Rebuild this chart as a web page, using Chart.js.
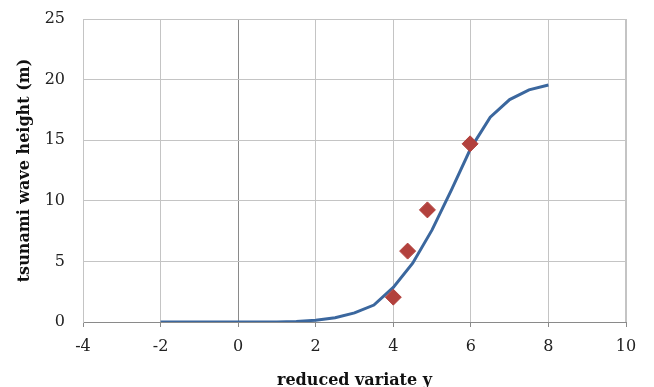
<!DOCTYPE html>
<html>
<head>
<meta charset="utf-8">
<script src="https://cdn.jsdelivr.net/npm/chart.js@4/dist/chart.umd.min.js"></script>
<style>
  html, body { margin: 0; padding: 0; background: #ffffff; }
  #wrap { width: 654px; height: 387px; position: relative; }
</style>
</head>
<body>
<div id="wrap"><canvas id="c" width="654" height="387"></canvas></div>
<script>
// Fitted curve (reduced variate y vs. tsunami wave height)
const curveX = [-2, -1.5, -1, -0.5, 0, 0.5, 1, 1.5, 2, 2.5, 3, 3.5, 4, 4.5, 5, 5.5, 6, 6.5, 7, 7.5, 8];
const curveY = [0, 0, 0, 0, 0, 0, 0, 0.05, 0.15, 0.35, 0.75, 1.4, 2.85, 4.85, 7.6, 10.9, 14.35, 16.9, 18.35, 19.15, 19.55];
// Observed points
const obsX = [4.0, 4.37, 4.88, 5.98];
const obsY = [2.05, 5.85, 9.25, 14.7];
// Axis labels
const xTitle = 'reduced variate y';
const yTitle = 'tsunami wave height (m)';

const FONT = "'DejaVu Serif', 'Liberation Serif', serif";

const curveData = curveX.map((x, i) => ({ x: x, y: curveY[i] }));
const obsData = obsX.map((x, i) => ({ x: x, y: obsY[i] }));

new Chart(document.getElementById('c'), {
  type: 'scatter',
  data: {
    datasets: [
      {
        label: 'observed',
        data: obsData,
        showLine: false,
        pointStyle: 'rectRot',
        pointRadius: 8,
        pointHoverRadius: 8,
        backgroundColor: '#b2413d',
        borderColor: '#b2413d',
        borderWidth: 1,
        order: 0
      },
      {
        label: 'fit',
        data: curveData,
        showLine: true,
        borderColor: '#3b679e',
        borderWidth: 3,
        pointRadius: 0,
        tension: 0,
        fill: false,
        order: 1
      }
    ]
  },
  options: {
    responsive: false,
    animation: false,
    devicePixelRatio: 1,
    layout: { padding: { left: 0, right: 28, top: 19, bottom: 0 } },
    plugins: {
      legend: { display: false },
      tooltip: { enabled: false }
    },
    scales: {
      x: {
        type: 'linear',
        min: -4, max: 10,
        ticks: {
          stepSize: 2,
          color: '#222',
          font: { family: FONT, size: 16 },
          padding: 10,
          maxRotation: 0
        },
        grid: {
          color: (ctx) => (ctx.tick && ctx.tick.value === 0) ? '#8a8a8a' : '#c4c4c4',
          lineWidth: 1,
          tickLength: 5,
          tickColor: '#8a8a8a',
          drawTicks: true
        },
        border: { display: true, color: '#8a8a8a', width: 1 },
        title: {
          display: true,
          text: xTitle,
          color: '#111',
          font: { family: FONT, size: 16, weight: 'bold', lineHeight: 0.9 },
          padding: { top: 0, bottom: -1 }
        },
        afterFit: (s) => { s.height = 65; s.paddingLeft = 0; s.paddingRight = 0; }
      },
      y: {
        type: 'linear',
        min: 0, max: 25,
        ticks: {
          stepSize: 5,
          color: '#222',
          font: { family: FONT, size: 16 },
          padding: 18
        },
        grid: {
          color: (ctx) => (ctx.tick && ctx.tick.value === 0) ? '#8a8a8a' : '#c4c4c4',
          lineWidth: 1,
          drawTicks: false,
          tickLength: 0
        },
        border: { display: true, color: '#c4c4c4', width: 1 },
        title: {
          display: true,
          text: yTitle,
          color: '#111',
          font: { family: FONT, size: 16, weight: 'bold', lineHeight: 1.2 },
          padding: { top: 15, bottom: 0 }
        },
        afterFit: (s) => { s.width = 83; s.paddingTop = 0; s.paddingBottom = 0; }
      }
    }
  },
  plugins: [{
    id: 'frame',
    afterDraw(chart) {
      const { ctx, chartArea: a } = chart;
      ctx.save();
      ctx.strokeStyle = '#c4c4c4';
      ctx.lineWidth = 1;
      ctx.beginPath();
      ctx.moveTo(a.left, a.top + 0.5); ctx.lineTo(a.right, a.top + 0.5);
      ctx.moveTo(a.right - 0.5, a.top); ctx.lineTo(a.right - 0.5, a.bottom);
      ctx.stroke();
      ctx.restore();
    }
  }]
});
</script>
</body>
</html>
